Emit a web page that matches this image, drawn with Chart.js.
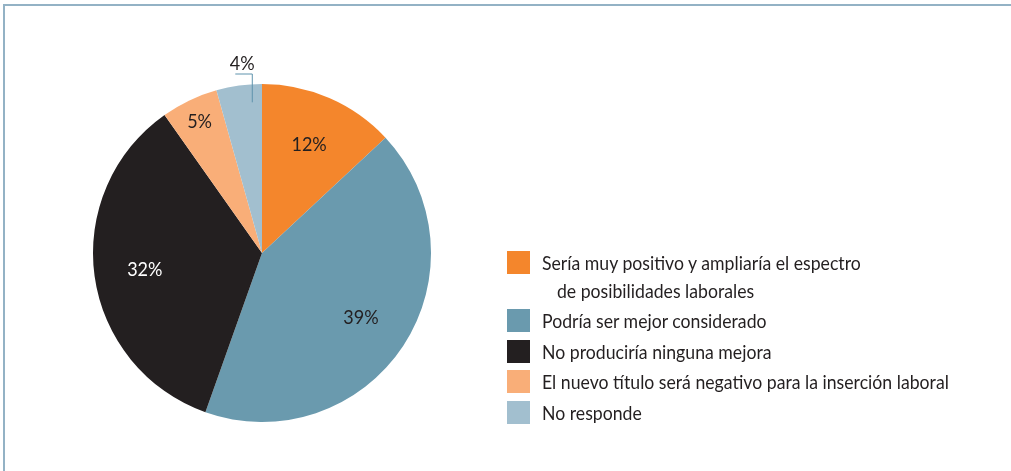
<!DOCTYPE html>
<html>
<head>
<meta charset="utf-8">
<script src="https://cdn.jsdelivr.net/npm/chart.js@4"></script>
<style>
  body { margin: 0; background: #fff; }
  #wrap { position: relative; width: 1011px; height: 471px; overflow: hidden; }
  #frame { position: absolute; left: 3px; top: 4px; width: 1020px; height: 500px;
           border-top: 2px solid #93b2c5; border-left: 2px solid #93b2c5; }
  #myChart { position: absolute; left: 0; top: 0; }
  #legend { position: absolute; left: 507px; top: 251px; font-family: Lato, sans-serif;
            font-size: 19px; color: #231f20; }
  .row { position: relative; height: 30.5px; line-height: 23px; padding-left: 35px; white-space: nowrap; }
  .row.two { height: 58px; }
  .sw { position: absolute; left: 0; top: 0; width: 23px; height: 23px; }
  .tx { display: inline-block; transform: scaleX(0.93); transform-origin: left center; }
  .l2 { display: block; padding-left: 16px; margin-top: 5px; }
</style>
</head>
<body>
<div id="wrap">
  <div id="frame"></div>
  <canvas id="myChart" width="1011" height="471"></canvas>
  <div id="legend"></div>
</div>
<script>
var categories = [
    ["Sería muy positivo y ampliaría el espectro", "de posibilidades laborales"],
    ["Podría ser mejor considerado"],
    ["No produciría ninguna mejora"],
    ["El nuevo título será negativo para la inserción laboral"],
    ["No responde"]
];
var values = [12, 39, 32, 5, 4];
var colors = ['#f4862c', '#6a9aae', '#231f20', '#f9ae78', '#a2bfcf'];
var labelColors = ['#231f20', '#231f20', '#ffffff', '#231f20', '#231f20'];

// percentage labels, the last slice gets an outside label with a leader line
var pctLabels = {
    id: 'pctLabels',
    afterDatasetsDraw: function(chart) {
        var ctx = chart.ctx;
        var arcs = chart.getDatasetMeta(0).data;
        ctx.save();
        ctx.font = '20px Lato, sans-serif';
        ctx.textAlign = 'center';
        ctx.textBaseline = 'middle';
        function label(txt, x, y) {
            ctx.save();
            ctx.translate(x, y);
            ctx.scale(0.9, 1);
            ctx.fillText(txt, 0, 0);
            ctx.restore();
        }
        arcs.forEach(function(arc, i) {
            var mid = (arc.startAngle + arc.endAngle) / 2;
            var r = arc.outerRadius;
            var txt = values[i] + '%';
            if (i == arcs.length - 1) {
                var px = arc.x + Math.cos(mid) * r * 0.9 + 11;
                var py = arc.y + Math.sin(mid) * r * 0.9;
                var ey = arc.y - r - 10;
                ctx.strokeStyle = '#5f93ad';
                ctx.lineWidth = 1;
                ctx.beginPath();
                ctx.moveTo(px, py);
                ctx.lineTo(px, ey);
                ctx.lineTo(px - 17, ey);
                ctx.stroke();
                ctx.fillStyle = labelColors[i];
                label(txt, px - 10, ey - 10);
                return;
            }
            var f = values[i] > 10 ? 0.7 : 0.86;
            ctx.fillStyle = labelColors[i];
            label(txt, arc.x + Math.cos(mid) * r * f, arc.y + Math.sin(mid) * r * f);
        });
        ctx.restore();
    }
};

var ctx = document.getElementById('myChart').getContext('2d');
var chart = new Chart(ctx, {
    type: 'pie',
    data: {
        labels: categories.map(function(c) { return c.join(' '); }),
        datasets: [{
            data: values,
            backgroundColor: colors,
            borderWidth: 0
        }]
    },
    options: {
        responsive: false,
        animation: false,
        layout: { padding: { left: 93, top: 84, right: 580, bottom: 49 } },
        plugins: {
            legend: { display: false },
            tooltip: { enabled: false }
        }
    },
    plugins: [pctLabels]
});

// legend next to the pie
var legend = document.getElementById('legend');
categories.forEach(function(c, i) {
    var row = document.createElement('div');
    row.className = 'row' + (c.length > 1 ? ' two' : '');
    var html = '<span class="sw" style="background:' + colors[i] + '"></span><span class="tx">' + c[0];
    if (c.length > 1) html += '<span class="l2">' + c[1] + '</span>';
    row.innerHTML = html + '</span>';
    legend.appendChild(row);
});
</script>
</body>
</html>
